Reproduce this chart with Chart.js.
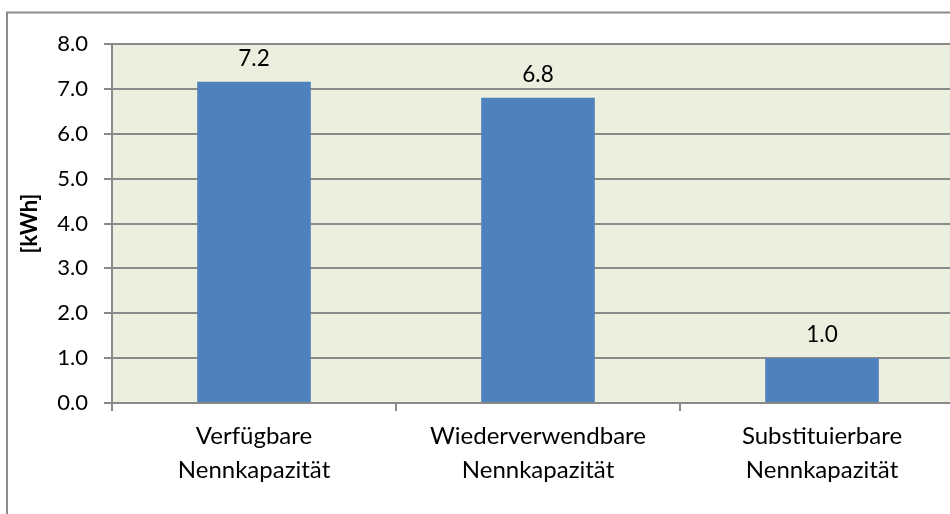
<!DOCTYPE html>
<html lang="de">
<head>
  <meta charset="UTF-8" />
  <title>Nennkapazität</title>
  <script src="https://cdn.jsdelivr.net/npm/chart.js"></script>
  <style>
    body {
      margin: 0;
      overflow: hidden;
      background: #ffffff;
    }
    .wrap {
      position: relative;
      width: 990px;
      height: 514px;
    }
  </style>
</head>
<body>
  <div class="wrap">
    <canvas id="grafica"></canvas>
  </div>

  <script>
    // Daten
    const kategorien = [
      ["Verfügbare", "Nennkapazität"],
      ["Wiederverwendbare", "Nennkapazität"],
      ["Substituierbare", "Nennkapazität"]
    ];
    const werte = [7.16, 6.8, 1.0];
    const yMin = 0;
    const yMax = 8;
    const ySchritt = 1;

    const schrift = "Lato, 'Open Sans', sans-serif";

    // Hintergrund der Zeichenfläche + äußerer Rahmen
    const hintergrund = {
      id: "hintergrund",
      beforeDraw(chart) {
        const { ctx, chartArea } = chart;
        ctx.save();
        ctx.fillStyle = "#ffffff";
        ctx.fillRect(0, 0, chart.width, chart.height);
        ctx.strokeStyle = "#8c8c8c";
        ctx.lineWidth = 2;
        ctx.strokeRect(7, 12.5, 1200, 1000);
        ctx.fillStyle = "#ebefde";
        ctx.fillRect(chartArea.left, chartArea.top, chartArea.right - chartArea.left, chartArea.bottom - chartArea.top);
        ctx.restore();
      }
    };

    // Werte über den Balken
    const beschriftung = {
      id: "beschriftung",
      afterDatasetsDraw(chart) {
        const { ctx } = chart;
        const meta = chart.getDatasetMeta(0);
        ctx.save();
        ctx.font = "22.5px " + schrift;
        ctx.fillStyle = "#000000";
        ctx.textAlign = "center";
        ctx.textBaseline = "middle";
        meta.data.forEach((bar, i) => {
          ctx.fillText(werte[i].toFixed(1), bar.x, bar.y - 23);
        });
        ctx.restore();
      }
    };

    new Chart(document.getElementById("grafica"), {
      type: "bar",
      data: {
        labels: kategorien,
        datasets: [{
          data: werte,
          backgroundColor: "#4f81bd",
          borderWidth: 0,
          barPercentage: 0.4,
          categoryPercentage: 1.0
        }]
      },
      options: {
        responsive: true,
        maintainAspectRatio: false,
        animation: false,
        layout: {
          padding: { top: 44, right: 26, left: 0, bottom: 0 }
        },
        plugins: {
          legend: { display: false },
          tooltip: { enabled: false }
        },
        scales: {
          x: {
            afterFit(scale) { scale.height = 111; },
            grid: {
              drawOnChartArea: false,
              drawTicks: true,
              tickLength: 8,
              color: "#8a8a8a",
              lineWidth: 2
            },
            border: { color: "#8a8a8a", width: 2 },
            ticks: {
              color: "#000000",
              padding: 8,
              maxRotation: 0,
              font: { family: schrift, size: 24, lineHeight: 1.42 }
            }
          },
          y: {
            min: yMin,
            max: yMax,
            afterFit(scale) { scale.width = 112; },
            grid: {
              color: "#8a8a8a",
              lineWidth: 2,
              tickLength: 8
            },
            border: { color: "#8a8a8a", width: 2 },
            ticks: {
              stepSize: ySchritt,
              color: "#000000",
              padding: 16,
              font: { family: schrift, size: 22 },
              callback: (v) => Number(v).toFixed(1)
            },
            title: {
              display: true,
              text: "[kWh]",
              color: "#000000",
              padding: { top: 17, bottom: 0 },
              font: { family: schrift, size: 22, weight: "bold" }
            }
          }
        }
      },
      plugins: [hintergrund, beschriftung]
    });
  </script>
</body>
</html>
